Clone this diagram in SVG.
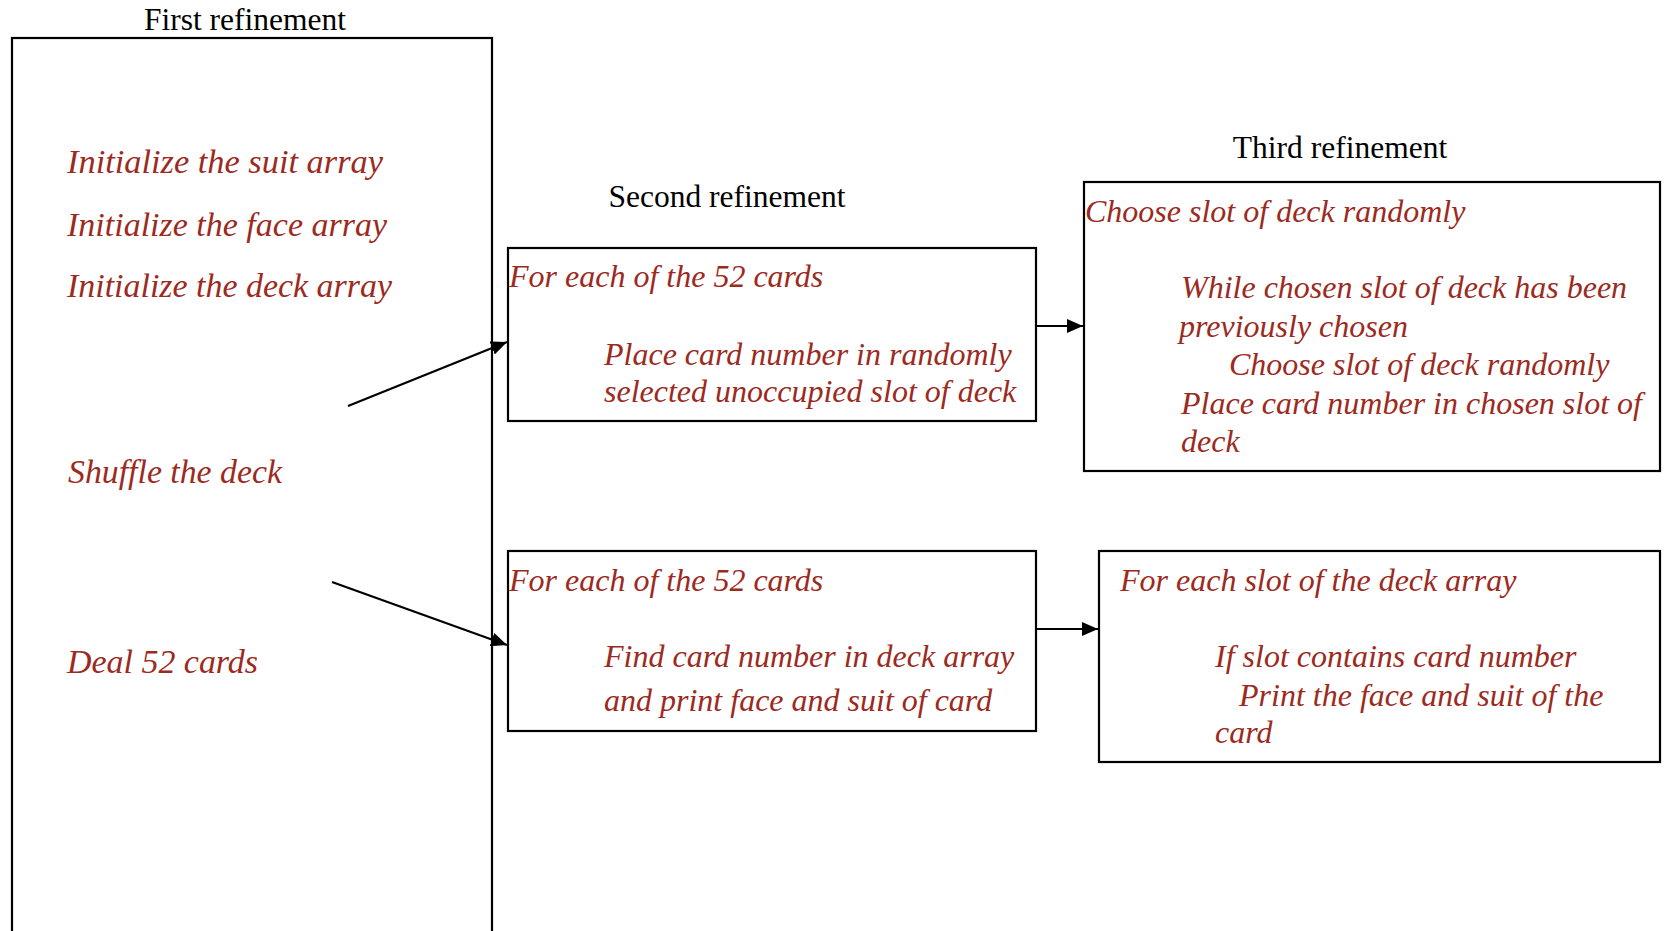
<svg xmlns="http://www.w3.org/2000/svg" width="1664" height="931" viewBox="0 0 1664 931">
<defs>
<style>
.box{fill:none;stroke:#000;stroke-width:2.2}
.title{font-family:"Liberation Serif","Times New Roman",serif;font-size:31.5px;fill:#000;text-anchor:middle}
.t{font-family:"Liberation Serif","Times New Roman",serif;font-style:italic;font-size:32px;fill:#9C2A1E}
.g{font-family:"Liberation Serif","Times New Roman",serif;font-style:italic;font-size:33px;fill:#9C2A1E}
.c{fill:none;stroke:#000;stroke-width:2.2}
</style>
<marker id="ah" viewBox="0 0 16 14" refX="16" refY="7" markerWidth="16" markerHeight="14" markerUnits="userSpaceOnUse" orient="auto">
<path d="M0,0 L16,7 L0,14 Z" fill="#000"/>
</marker>
</defs>
<rect width="1664" height="931" fill="#fff"/>
<g id="first">
<text class="title" x="245" y="30">First refinement</text>
<rect class="box" x="12" y="38" width="480" height="920"/>
<text class="g" x="67" y="173" textLength="316" lengthAdjust="spacingAndGlyphs">Initialize the suit array</text>
<text class="g" x="67" y="236" textLength="320" lengthAdjust="spacingAndGlyphs">Initialize the face array</text>
<text class="g" x="67" y="297" textLength="325" lengthAdjust="spacingAndGlyphs">Initialize the deck array</text>
<text class="g" x="68" y="483" textLength="214" lengthAdjust="spacingAndGlyphs">Shuffle the deck</text>
<text class="g" x="67" y="673" textLength="191" lengthAdjust="spacingAndGlyphs">Deal 52 cards</text>
</g>
<g id="second-title">
<text class="title" x="727" y="207">Second refinement</text>
</g>
<g id="second-shuffle">
<rect class="box" x="508" y="248" width="528" height="173"/>
<text class="t" x="509" y="287">For each of the 52 cards</text>
<text class="t" x="604" y="365">Place card number in randomly</text>
<text class="t" x="604" y="402">selected unoccupied slot of deck</text>
</g>
<g id="second-deal">
<rect class="box" x="508" y="551" width="528" height="180"/>
<text class="t" x="509" y="591">For each of the 52 cards</text>
<text class="t" x="604" y="667">Find card number in deck array</text>
<text class="t" x="604" y="711">and print face and suit of card</text>
</g>
<g id="third-title">
<text class="title" x="1340" y="158">Third refinement</text>
</g>
<g id="third-shuffle">
<rect class="box" x="1084" y="182" width="576" height="289"/>
<text class="t" x="1085" y="222">Choose slot of deck randomly</text>
<text class="t" x="1181" y="298">While chosen slot of deck has been</text>
<text class="t" x="1179" y="337">previously chosen</text>
<text class="t" x="1229" y="375">Choose slot of deck randomly</text>
<text class="t" x="1181" y="414">Place card number in chosen slot of</text>
<text class="t" x="1181" y="452">deck</text>
</g>
<g id="third-deal">
<rect class="box" x="1099" y="551" width="561" height="211"/>
<text class="t" x="1120" y="591">For each slot of the deck array</text>
<text class="t" x="1215" y="667">If slot contains card number</text>
<text class="t" x="1239" y="706">Print the face and suit of the</text>
<text class="t" x="1215" y="743">card</text>
</g>
<g id="connectors">
<line class="c" x1="348" y1="406" x2="507" y2="342" marker-end="url(#ah)"/>
<line class="c" x1="332" y1="582" x2="507" y2="645" marker-end="url(#ah)"/>
<line class="c" x1="1036" y1="326" x2="1083" y2="326" marker-end="url(#ah)"/>
<line class="c" x1="1036" y1="629" x2="1098" y2="629" marker-end="url(#ah)"/>
</g>
</svg>
